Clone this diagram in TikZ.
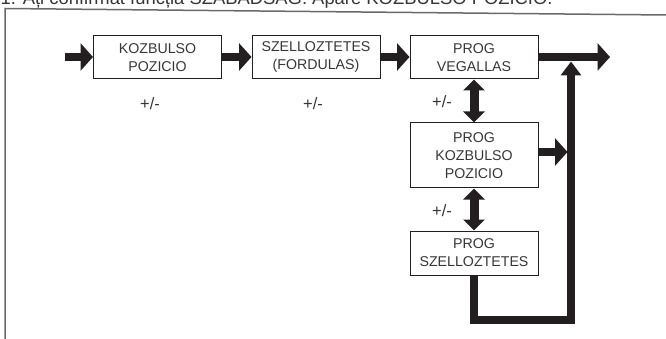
\documentclass[tikz,border=0pt]{standalone}
\usepackage{fontspec}
\setmainfont{Liberation Sans}
\usetikzlibrary{arrows.meta}
\definecolor{framegray}{HTML}{6A6A6A}
\definecolor{ink}{HTML}{231F20}
\tikzset{
  box/.style={draw=ink, line width=1pt, rectangle, inner sep=0pt, align=center,
    minimum width=128pt, font=\fontsize{14.2}{18}\selectfont, text=ink!90},
  flow/.style={draw=ink, line width=7.5pt, -{Triangle[length=12.5pt,width=27pt]}, ink},
  updown/.style={draw=ink, line width=9pt, {Triangle[length=11pt,width=21pt]}-{Triangle[length=11pt,width=21pt]}, ink},
  pm/.style={font=\fontsize{16.5}{18}\selectfont, text=ink!90, inner sep=0pt},
  frame/.style={draw=framegray, line width=1.5pt}
}
\begin{document}
\begin{tikzpicture}[x=1pt,y=-1pt]
\useasboundingbox (0,0) rectangle (666,339);
\node[anchor=base west, inner sep=0pt, font=\fontsize{18.4}{20}\selectfont, text=ink!90] (title) at (0.5,4.7)
  {1. Ați confirmat funcția SZABADSAG. Apare KOZBULSO POZICIO.};
\draw[frame] (5,339) -- (5,8.5) -- (666,15);

\node[box, minimum height=43pt] (b1) at (157.5,57.5) {KOZBULSO\\POZICIO};
\node[box, minimum height=43pt] (b2) at (316,57.5) {SZELLOZTETES\\(FORDULAS)};
\node[box, minimum height=43pt] (b3) at (474,57.5) {PROG\\VEGALLAS};
\node[box, minimum height=65pt] (b4) at (474,155.5) {PROG\\KOZBULSO\\POZICIO};
\node[box, minimum height=44pt] (b5) at (474,253) {PROG\\SZELLOZTETES};

\coordinate (in) at (65,57);
\coordinate (out) at (610,57);
\coordinate (j4) at (567.5,152);
\coordinate (c1) at (474,320);
\coordinate (c2) at (571,320);
\coordinate (up) at (571,61.5);

\draw[flow] (in) -- (b1.west |- in);
\draw[flow] (b1.east |- in) -- (b2.west |- in);
\draw[flow] (b2.east |- in) -- (b3.west |- in);
\draw[flow] (b3.east |- in) -- (out);
\draw[flow] (b4.east |- j4) -- (j4);
\draw[draw=ink, line width=7.5pt, line join=miter, -{Triangle[length=14pt,width=20pt]}, ink]
  (b5.south) -- (c1) -- (c2) -- (up);

\draw[updown] (b3.south) -- (b4.north);
\draw[updown] (b4.south) -- (b5.north);

\node[pm] (p1) at (150,104) {+/-};
\node[pm] (p2) at (313,104) {+/-};
\node[pm] (p3) at (442,102) {+/-};
\node[pm] (p4) at (442,211) {+/-};
\end{tikzpicture}
\end{document}
